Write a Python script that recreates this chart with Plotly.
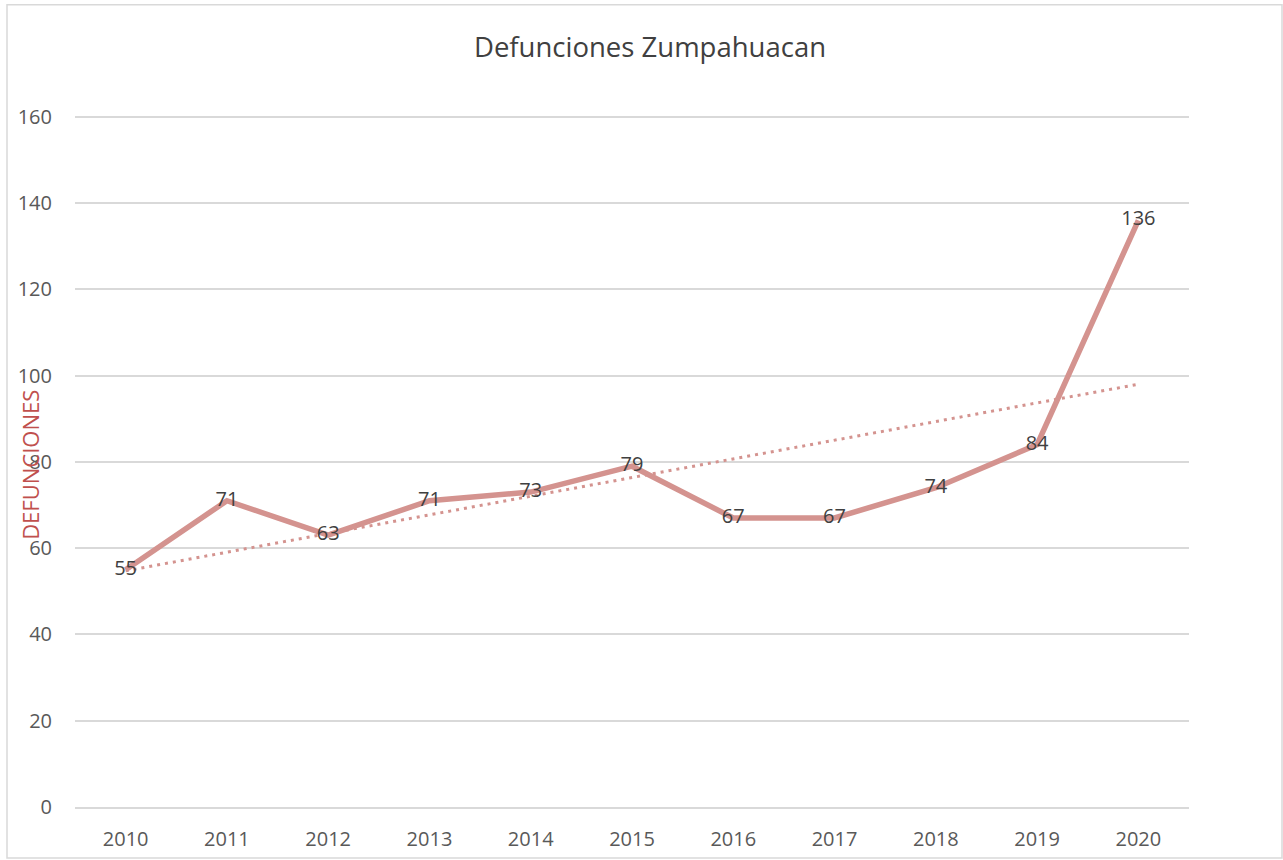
import numpy as np
import plotly.graph_objects as go

# data
years = ['2010', '2011', '2012', '2013', '2014', '2015', '2016', '2017', '2018', '2019', '2020']
defunciones = [55, 71, 63, 71, 73, 79, 67, 67, 74, 84, 136]
y_ticks = [0, 20, 40, 60, 80, 100, 120, 140, 160]

# linear trend line (like Excel's trendline)
idx = np.arange(len(years))
slope, intercept = np.polyfit(idx, defunciones, 1)
trend = slope * idx + intercept

line_color = '#d4938f'
fnt = 'Open Sans, Noto Sans, sans-serif'

fig = go.Figure()
fig.add_trace(go.Scatter(x=years, y=trend, mode='lines',
                         line=dict(color=line_color, width=3, dash='3px,5px'),
                         hoverinfo='skip'))
fig.add_trace(go.Scatter(x=years, y=defunciones, mode='lines+text',
                         text=[str(v) for v in defunciones],
                         textposition='middle center',
                         textfont=dict(color='#404040', size=20, family=fnt),
                         line=dict(color=line_color, width=5.5)))

# plot area: 160 -> y=117, 0 -> y=807 ; ymax slightly above 160 so gridline shows
ymax = 160.4
top = 807 - 690 * ymax / 160
fig.update_layout(
    width=1283, height=860,
    margin=dict(l=75, r=94, t=top, b=53),
    paper_bgcolor='white', plot_bgcolor='white',
    showlegend=False,
    font=dict(family=fnt, color='#595959', size=20),
    title=dict(text='Defunciones Zumpahuacan', x=650 / 1283, xanchor='center',
               y=1 - 47/860, yanchor='middle',
               font=dict(size=27.5, color='#404040', family=fnt)),
)
fig.update_xaxes(type='category', range=[-0.5, 10.5], showgrid=False,
                 showline=True, linecolor='#d9d9d9', linewidth=1.5,
                 ticks='', ticklabelstandoff=13, automargin=False,
                 tickfont=dict(size=20, color='#595959'))
fig.update_yaxes(range=[0, ymax], tickvals=y_ticks, showgrid=True,
                 gridcolor='#d9d9d9', gridwidth=1.5, zeroline=False,
                 showline=False, ticks='', ticklabelstandoff=22, automargin=False,
                 tickfont=dict(size=20, color='#595959'))

# axis title sits over the tick labels, as in the original
fig.add_annotation(text='DEFUNCIONES', xref='paper', yref='paper',
                   x=(30 - 75) / 1114, y=(807 - 465) / (807 - top),
                   xanchor='center', yanchor='middle', textangle=-90,
                   showarrow=False,
                   font=dict(size=22, color='#c0504d', family=fnt))

# chart border
fig.add_shape(type='rect', xref='paper', yref='paper',
              x0=(7 - 75) / 1114, x1=(1282 - 75) / 1114,
              y0=(807 - 858) / (807 - top), y1=(807 - 5) / (807 - top),
              line=dict(color='#d9d9d9', width=1.5), layer='below')

fig.write_html("out.html", config={'displayModeBar': False},
               post_script="document.body.style.margin='0';")
